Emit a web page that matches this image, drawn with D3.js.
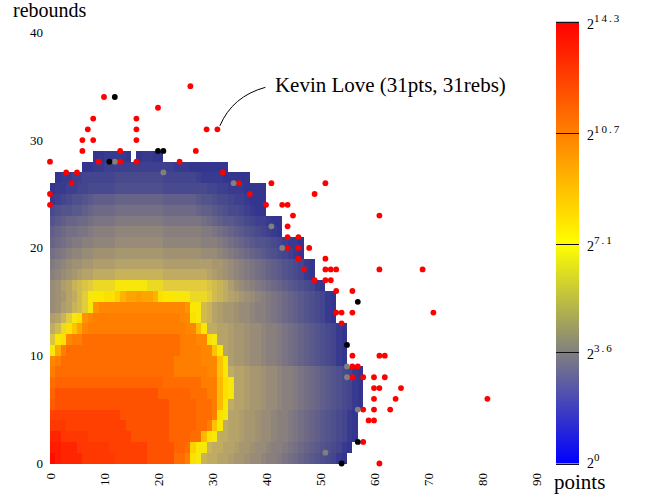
<!DOCTYPE html>
<html>
<head>
<meta charset="utf-8">
<script src="https://cdn.jsdelivr.net/npm/d3@7"></script>
<style>
  body { margin: 0; background: #fff; }
  svg { display: block; font-family: "Liberation Serif", "Times New Roman", serif; }
</style>
</head>
<body>
<svg id="chart" width="651" height="497"></svg>
<script>
var pointTicks = [0, 10, 20, 30, 40, 50, 60, 70, 80, 90];
var reboundTicks = [0, 10, 20, 30, 40];
var colorTicks = [0, 3.6, 7.1, 10.7, 14.3];
var colorTickLabels = ["0", "3.6", "7.1", "10.7", "14.3"];
var colorbarColors = ["#0000ff", "#808080", "#ffff00", "#ff8000", "#ff0000"];
// the cells themselves are drawn in a darker, warmer version of the bar
var cellStops = [0, 1.8, 3.6, 5.3, 6.5, 7.1, 10.7, 14.3];
var cellColors = ["#2d3090", "#55558c", "#847c80", "#b8a468", "#e2cc3c", "#fbec00", "#ff8000", "#ff0000"];

// heatmap, one string per rebound row (0 at the bottom). Each character is
// log2(games) * 4 written with the digits below, '.' = no game in that cell.
var LEVEL_DIGITS = "0123456789abcdefghijklmnopqrstuvwxyzABCDEFGHIJKLMNOPQRSTUVWXYZ";
var rowFirstPoint = [0, 0, 0, 0, 0, 0, 0, 0, 0, 0, 0, 0, 0, 0, 0,
                     0, 0, 0, 0, 0, 0, 0, 0, 0, 0, 0, 1, 6, 8];
var rowLevels = [
  "USRRRR" + "PPPPPP" + "OOOOOO" + "MMMMM" + "JJH" + "us" + "nmmllkjjihhgffedcba98765421",
  "SSRRR" + "PPPPPP" + "OOOOOOO" + "MMMMM" + "KKJ" + "wts" + "nmmllkjjihhgffedcba98765421",
  "RR" + "PPPPP" + "OOOOOOOO" + "MMMMMMM" + "KKKK" + "JJ" + "zus" + "mmllkjjihhgffedcba98765421",
  "PPP" + "OOOOOOOOOOO" + "MMMMMMMM" + "KKKKK" + "JJH" + "yt" + "mllkjjihhgffedcba98765421",
  "OOOOOOOOOOOOO" + "MMMMMMMMM" + "KKKKK" + "JJJH" + "us" + "llkjjihhgffedcba98765421",
  "L" + "MMMMMMMMMMMMMMMMMMMMM" + "KKKKK" + "JJJH" + "zt" + "mllkjjihhgffedcba98765421",
  "K" + "MMMMMMMMMMMMMMMMMMM" + "KKKKKK" + "JJJ" + "HH" + "zus" + "llkjjihhgffedcba98765421",
  "J" + "KKKKKKKKKKKKKKKKKKKK" + "JJJJJJJ" + "HHH" + "zus" + "llkjjihhgffedcba98765421",
  "H" + "JJJJJJJJJJJJJJJJJJJJJJ" + "HHHHHH" + "GG" + "yt" + "mllkjjihhgffedcba98765421",
  "GH" + "JJJJJJJJJJJJJJJJJJJJJ" + "HHHHH" + "GGG" + "yt" + "kjjihhgffedcba98765421",
  "sB" + "H" + "JJJJJJJJJJJJJJJJJJJJJ" + "HHHH" + "GG" + "yt" + "lkjjihhgffedcba98765421",
  "ptu" + "G" + "HH" + "JJJJJJJJJJJJJJJJJJ" + "HHH" + "GG" + "us" + "llkjjihhgffedcba98765421",
  "moruyC" + "G" + "HHHHHHHHHHHHHHHHHH" + "GG" + "zt" + "mmllkjjihhgffedcba98765421",
  "klnqsu" + "EG" + "HHHHHHHHHHHHHHHH" + "GG" + "us" + "on" + "lkjjihhgffedcba98765421",
  "hiklnoqs" + "E" + "GGGGGGGGGGGGGGGG" + "E" + "ts" + "on" + "lkjjihhgffedcba98765421",
  "hijlmoqstt" + "uuwACCDCCA" + "uttsssrrrq" + "onmlkjihgfedcba98765421",
  "hiklnopq" + "rrrr" + "ssssss" + "rrr" + "qqqqqqqq" + "p" + "onmkihgfedcba98765421",
  "fghijkll" + "mmmm" + "nnnnnnnnn" + "mmmmmmmm" + "lkjihgfedcba98765421",
  "efghiijj" + "kkkk" + "lllllllll" + "kkkkkkkk" + "kjjihgfedcba98765421",
  "cdefgghh" + "iiii" + "jjjjjjjjj" + "iiiiiiih" + "hhgfedcba987654321",
  "abcdeeff" + "gggg" + "hhhhhhhhh" + "gggggggf" + "ffedcba98776543221",
  "9abccdde" + "ffff" + "ggggggggg" + "fffffff" + "eedcba987654321",
  "789aabbc" + "dddd" + "eeeeeeeee" + "ddddddd" + "cba988765433211",
  "5677889a" + "bbbb" + "ccccccccc" + "bbbbbb" + "a998765543211",
  "23456678" + "9999" + "aaaaaaaaa" + "999999" + "8776554332111",
  "12233445" + "5555" + "666666666" + "555555" + "5544332221111",
  "1223344" + "4444" + "555555555" + "444444" + "3222211111",
  "1122" + "3333333333333" + "222" + "1111111",
  "1122221.12211"
];

// single games outside / on the edge of the heatmap, [points, rebounds]
var redGames = [
  [10, 34], [26, 35], [20, 33], [8, 32], [16, 32], [7, 31], [16, 31], [29, 31],
  [31, 31], [6, 30], [8, 30], [16, 30], [6, 29], [13, 29], [27, 29], [0, 28],
  [9, 28], [13, 28], [16, 28], [24, 28], [3, 27], [5, 27], [32, 27], [4, 26],
  [35, 26], [41, 26], [51, 26], [0, 25], [37, 25], [49, 25], [0, 24], [40, 24],
  [43, 24], [44, 24], [45, 23], [61, 23], [44, 22], [44, 21], [46, 21], [44, 20],
  [46, 20], [48, 20], [46, 19], [51, 19], [47, 18], [51, 18], [52, 18], [53, 18],
  [61, 18], [69, 18], [49, 17], [51, 17], [52, 17], [53, 16], [56, 16], [53, 14],
  [54, 14], [56, 14], [71, 14], [54, 13], [56, 10], [61, 10], [62, 10], [56, 9],
  [57, 9], [56, 8], [58, 8], [60, 8], [62, 8], [60, 7], [61, 7], [65, 7],
  [60, 6], [64, 6], [81, 6], [58, 5], [60, 5], [63, 5], [59, 4], [60, 4],
  [58, 2], [61, 0]
];
var greyGames = [
  [12, 28], [21, 27], [34, 26], [41, 22], [43, 20], [55, 9], [55, 8], [57, 5], [51, 1]
];
var blackGames = [
  [12, 34], [20, 29], [21, 29], [11, 28], [57, 15], [55, 11], [57, 2], [54, 0]
];

var annotationText = "Kevin Love (31pts, 31rebs)";
var annotationGame = [31, 31];

var svg = d3.select("#chart");

var x = d3.scaleLinear().domain([0, 90]).range([50, 536]);
var y = d3.scaleLinear().domain([0, 40]).range([463.5, 32.3]);
var cellColor = d3.scaleLinear().domain(cellStops).range(cellColors);
var barY = d3.scaleLinear().domain([0, 14.3]).range([463.5, 21.7]);

var cells = [];
rowLevels.forEach(function(row, r) {
  for (var i = 0; i < row.length; i++) {
    if (row[i] === ".") continue;
    cells.push({p: rowFirstPoint[r] + i, r: r, level: LEVEL_DIGITS.indexOf(row[i]) / 4});
  }
});

svg.append("g")
    .attr("shape-rendering", "crispEdges")
  .selectAll("rect")
  .data(cells)
  .enter().append("rect")
    .attr("x", function(d) { return Math.round(x(d.p)); })
    .attr("y", function(d) { return Math.round(y(d.r + 1)); })
    .attr("width", function(d) { return Math.round(x(d.p + 1)) - Math.round(x(d.p)); })
    .attr("height", function(d) { return Math.round(y(d.r)) - Math.round(y(d.r + 1)); })
    .attr("fill", function(d) { return cellColor(d.level); });

// games
function drawGames(games, color) {
  svg.append("g").selectAll("circle")
      .data(games)
      .enter().append("circle")
        .attr("cx", function(d) { return x(d[0]); })
        .attr("cy", function(d) { return y(d[1]); })
        .attr("r", 2.9)
        .attr("fill", color);
}
drawGames(redGames, "#ff0000");
drawGames(greyGames, "#808080");
drawGames(blackGames, "#000000");

// axes: labels only
svg.append("g").selectAll("text")
    .data(reboundTicks)
    .enter().append("text")
      .attr("x", 43)
      .attr("y", function(d) { return y(d); })
      .attr("dy", "0.35em")
      .attr("text-anchor", "end")
      .attr("font-size", 13)
      .text(function(d) { return d; });

svg.append("g").selectAll("text")
    .data(pointTicks)
    .enter().append("text")
      .attr("transform", function(d) { return `translate(${x(d)}, 473) rotate(-90)`; })
      .attr("dy", "0.35em")
      .attr("text-anchor", "end")
      .attr("font-size", 13)
      .text(function(d) { return d; });

svg.append("text")
    .attr("x", 13)
    .attr("y", 17)
    .attr("font-size", 20)
    .text("rebounds");

// annotation
var gx = x(annotationGame[0]), gy = y(annotationGame[1]);
svg.append("path")
    .attr("d", `M ${gx + 48} ${gy - 42} Q ${gx + 15} ${gy - 33} ${gx + 2.5} ${gy - 3.5}`)
    .attr("fill", "none")
    .attr("stroke", "#000")
    .attr("stroke-width", 1);
svg.append("text")
    .attr("x", gx + 57.5)
    .attr("y", gy - 37)
    .attr("font-size", 21)
    .text(annotationText);

// colorbar
var grad = svg.append("defs").append("linearGradient")
    .attr("id", "cbar")
    .attr("x1", 0).attr("y1", 1).attr("x2", 0).attr("y2", 0);
grad.selectAll("stop")
    .data(colorTicks)
    .enter().append("stop")
      .attr("offset", function(d) { return d / 14.3; })
      .attr("stop-color", function(d, i) { return colorbarColors[i]; });

svg.append("rect")
    .attr("x", 556)
    .attr("y", barY(14.3))
    .attr("width", 23)
    .attr("height", barY(0) - barY(14.3))
    .attr("fill", "url(#cbar)");

svg.append("g").selectAll("line")
    .data(colorTicks)
    .enter().append("line")
      .attr("x1", 556).attr("x2", 579)
      .attr("y1", function(d) { return Math.round(barY(d)) + 0.5; })
      .attr("y2", function(d) { return Math.round(barY(d)) + 0.5; })
      .attr("stroke", "#111")
      .attr("stroke-width", 1);

var cbLabel = svg.append("g").selectAll("text")
    .data(colorTicks)
    .enter().append("text")
      .attr("x", 587)
      .attr("y", function(d) { return barY(d) + (d === 0 ? 4 : 7); })
      .attr("font-size", 14);
cbLabel.append("tspan").text("2");
cbLabel.append("tspan")
    .attr("dy", -7)
    .attr("font-size", 11)
    .attr("letter-spacing", 2)
    .text(function(d, i) { return colorTickLabels[i]; });

svg.append("text")
    .attr("x", 554)
    .attr("y", 489)
    .attr("font-size", 21)
    .text("points");
</script>
</body>
</html>
